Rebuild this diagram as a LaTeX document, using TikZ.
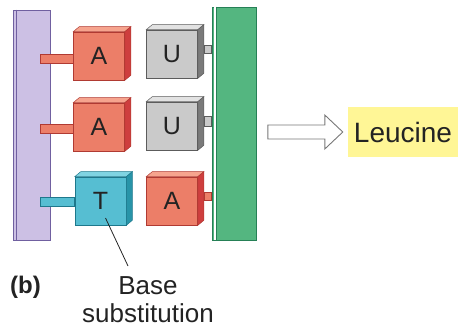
\documentclass[tikz,border=0pt]{standalone}
\usepackage{fontspec}
\setmainfont{Liberation Sans}
\usetikzlibrary{calc}

\definecolor{ink}{RGB}{35,35,35}
\definecolor{dnafill}{RGB}{204,192,228}
\definecolor{dnaedge}{RGB}{112,96,160}
\definecolor{rnafill}{RGB}{84,182,128}
\definecolor{rnaedge}{RGB}{38,128,86}
\definecolor{salfront}{RGB}{236,126,104}
\definecolor{saltop}{RGB}{246,164,142}
\definecolor{salside}{RGB}{206,62,62}
\definecolor{saledge}{RGB}{176,58,50}
\definecolor{grfront}{RGB}{202,202,202}
\definecolor{grtop}{RGB}{226,226,226}
\definecolor{grside}{RGB}{122,122,122}
\definecolor{gredge}{RGB}{92,92,92}
\definecolor{cyfront}{RGB}{86,190,210}
\definecolor{cytop}{RGB}{128,212,226}
\definecolor{cyside}{RGB}{40,148,168}
\definecolor{cyedge}{RGB}{30,120,140}
\definecolor{leufill}{RGB}{255,246,150}
\definecolor{arrowedge}{RGB}{120,120,120}

\tikzset{
  cubeface/.style={rectangle, minimum width=51pt, minimum height=48pt,
    inner sep=0pt, line width=0.6pt, text=ink,
    font=\fontsize{25}{28}\selectfont},
  stembar/.style={line width=0.5pt},
  label/.style={text=ink, inner sep=0pt},
}

% a base drawn as a small box: name, position, letter, colour prefix
\newcommand\basecube[4]{%
  \node[cubeface, fill=#4front, draw=#4edge] (#1) at #2 {#3};
  \filldraw[fill=#4top, draw=#4edge, line width=0.5pt]
    (#1.north west) -- ++(6,-5) -- ([shift={(6,-5)}]#1.north east)
    -- (#1.north east) -- cycle;
  \filldraw[fill=#4side, draw=#4edge, line width=0.5pt]
    (#1.north east) -- ([shift={(6,-5)}]#1.north east)
    -- ([shift={(6,-5)}]#1.south east) -- (#1.south east) -- cycle;
}

\begin{document}
\begin{tikzpicture}[x=1pt, y=-1pt]
\useasboundingbox (0,0) rectangle (461,330);

% DNA backbone strip (left) and mRNA backbone strip (right)
\node[rectangle, fill=dnafill, draw=dnaedge, line width=0.8pt,
      minimum width=37pt, minimum height=230pt, inner sep=0pt]
      (dna) at (31.5,125) {};
\draw[dnaedge, line width=0.6pt] ([xshift=4pt]dna.north west) -- ([xshift=4pt]dna.south west);
\node[rectangle, fill=rnafill, draw=rnaedge, line width=0.8pt,
      minimum width=44pt, minimum height=233pt, inner sep=0pt]
      (rna) at (234,123.5) {};
\draw[white, line width=1.6pt] ([xshift=3.5pt]rna.north west) -- ([xshift=3.5pt]rna.south west);
\draw[rnaedge, line width=0.6pt] ([xshift=5pt]rna.north west) -- ([xshift=5pt]rna.south west);

% bases
\basecube{a1}{(99,56)}{A}{sal}
\basecube{a2}{(99,127)}{A}{sal}
\basecube{t3}{(100.5,201)}{T}{cy}
\basecube{u1}{(172,54)}{U}{gr}
\basecube{u2}{(172,126)}{U}{gr}
\basecube{a3}{(172,201)}{A}{sal}

% stems joining the bases to the strips
\filldraw[stembar, fill=salfront, draw=saledge]
  ([yshift=-7.5pt]a1.west -| dna.east) ++(-10,0) rectangle ([yshift=1.5pt]a1.west);
\filldraw[stembar, fill=salfront, draw=saledge]
  ([yshift=-6.5pt]a2.west -| dna.east) ++(-10,0) rectangle ([yshift=2.5pt]a2.west);
\filldraw[stembar, fill=cyfront, draw=cyedge]
  ([yshift=-5.5pt]t3.west -| dna.east) ++(-10,0) rectangle ([yshift=3.5pt]t3.west);
\filldraw[stembar, fill=grfront, draw=gredge]
  ([shift={(6,-9)}]u1.east) rectangle ([yshift=1pt]u1.east -| rna.west);
\filldraw[stembar, fill=grfront, draw=gredge]
  ([shift={(6,-10)}]u2.east) rectangle ([yshift=0pt]u2.east -| rna.west);
\filldraw[stembar, fill=salfront, draw=saledge]
  ([shift={(6,-9)}]a3.east) rectangle ([yshift=1pt]a3.east -| rna.west);

% resulting amino acid
\node[rectangle, fill=leufill, minimum width=110pt, minimum height=50pt,
      inner sep=0pt, text=ink, font=\fontsize{28}{32}\selectfont]
      (leu) at (403,132) {Leucine};

% hollow arrow towards the amino acid
\draw[arrowedge, fill=white, line width=0.9pt]
  ([xshift=-5pt]leu.west) coordinate (tip)
  -- ++(-18,-17) -- ++(0,10) -- ++(-57,0) -- ++(0,14)
  -- ++(57,0) -- ++(0,10) -- cycle;

% labels
\node[label, anchor=base west, font=\bfseries\fontsize{24}{28}\selectfont]
  (tag) at (10,293) {(b)};
\node[label, anchor=north, align=center,
      font=\fontsize{26}{28}\selectfont]
  (sub) at (148,276) {Base\\substitution};
\coordinate (subtop) at ([shift={(-20,-10)}]sub.north);
\draw[ink, line width=0.8pt] ([shift={(5,17)}]t3.center) -- (subtop);
\end{tikzpicture}
\end{document}
